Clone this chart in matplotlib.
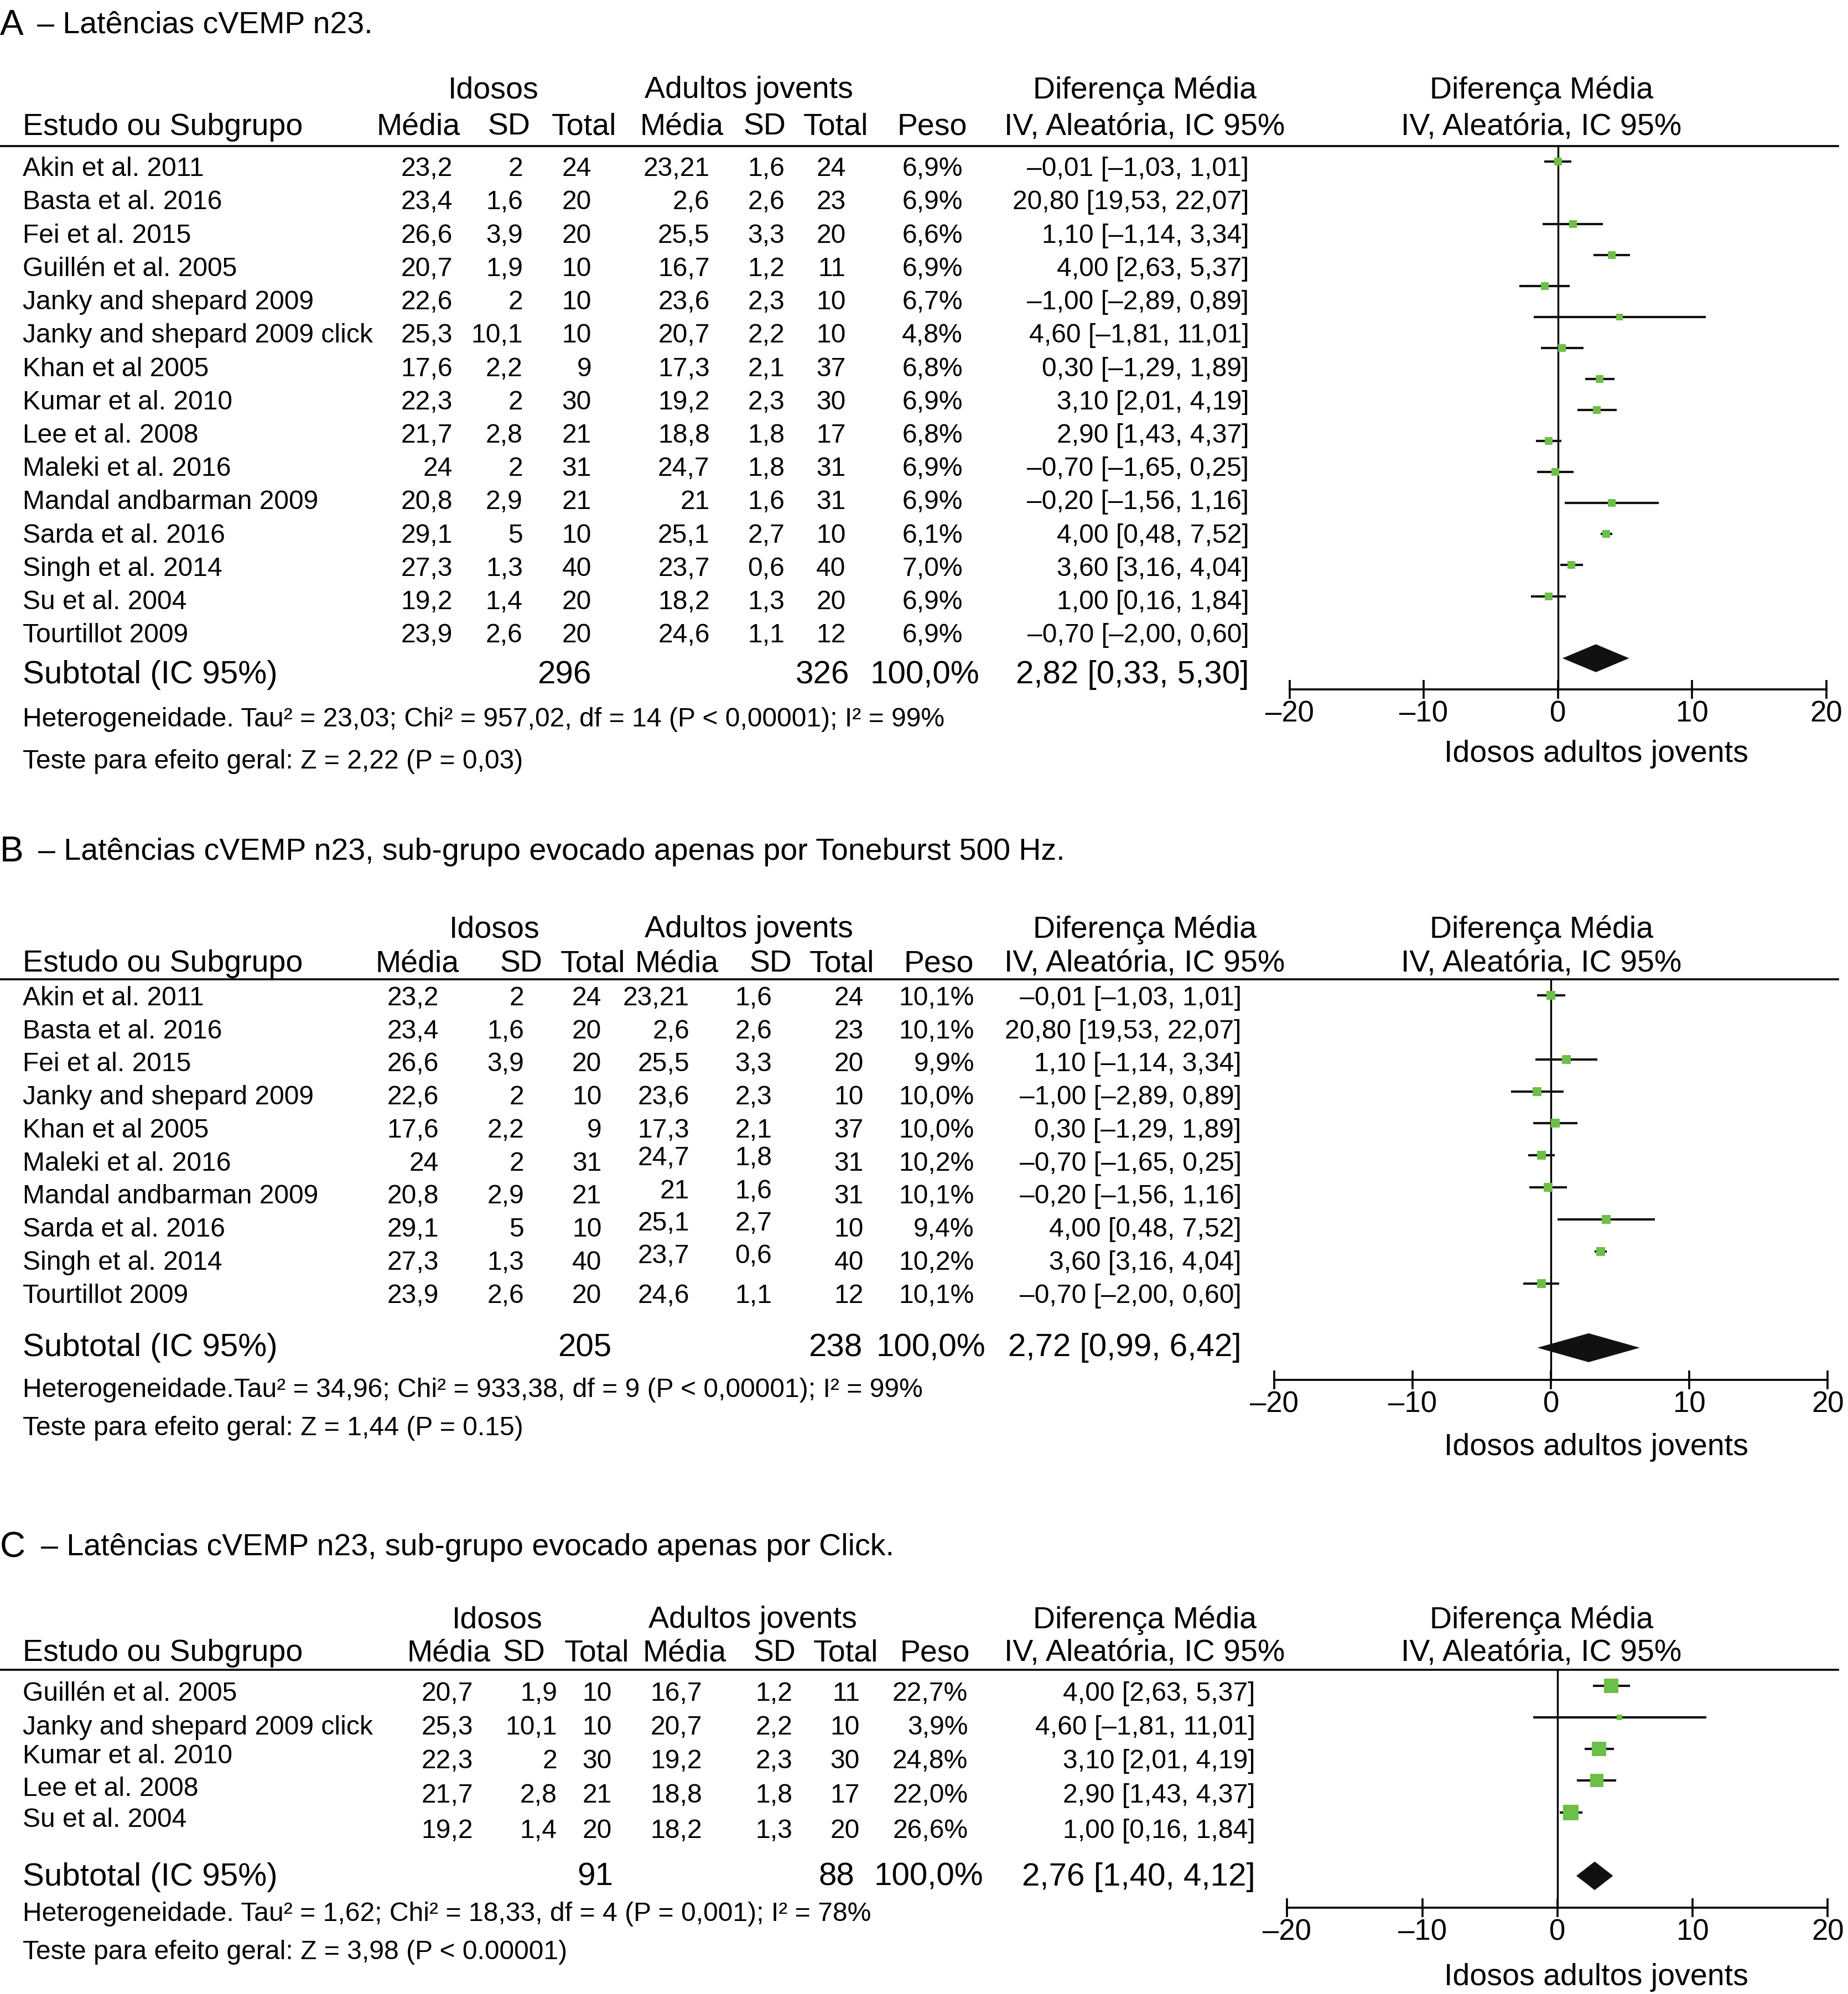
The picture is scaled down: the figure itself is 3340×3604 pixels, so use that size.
import numpy as np
import matplotlib.pyplot as plt
from matplotlib.lines import Line2D

plt.rcParams['font.family'] = ['Liberation Sans', 'DejaVu Sans']

# layout grid: positions are given on a 1453 x 1568 grid (the reference, shrunk)
W, H = 1453, 1568

# ---- data (panel A holds every study) ----
studies = ["Akin et al. 2011", "Basta et al. 2016", "Fei et al. 2015", "Guillén et al. 2005",
           "Janky and shepard 2009", "Janky and shepard 2009 click", "Khan et al 2005",
           "Kumar et al. 2010", "Lee et al. 2008", "Maleki et al. 2016", "Mandal andbarman 2009",
           "Sarda et al. 2016", "Singh et al. 2014", "Su et al. 2004", "Tourtillot 2009"]
old_mean = [23.2, 23.4, 26.6, 20.7, 22.6, 25.3, 17.6, 22.3, 21.7, 24, 20.8, 29.1, 27.3, 19.2, 23.9]
old_sd = [2, 1.6, 3.9, 1.9, 2, 10.1, 2.2, 2, 2.8, 2, 2.9, 5, 1.3, 1.4, 2.6]
old_n = [24, 20, 20, 10, 10, 10, 9, 30, 21, 31, 21, 10, 40, 20, 20]
young_mean = [23.21, 2.6, 25.5, 16.7, 23.6, 20.7, 17.3, 19.2, 18.8, 24.7, 21, 25.1, 23.7, 18.2, 24.6]
young_sd = [1.6, 2.6, 3.3, 1.2, 2.3, 2.2, 2.1, 2.3, 1.8, 1.8, 1.6, 2.7, 0.6, 1.3, 1.1]
young_n = [24, 23, 20, 11, 10, 10, 37, 30, 17, 31, 31, 10, 40, 20, 12]
mean_diff = [-0.01, 20.80, 1.10, 4.00, -1.00, 4.60, 0.30, 3.10, 2.90, -0.70, -0.20, 4.00, 3.60, 1.00, -0.70]
ci_low = [-1.03, 19.53, -1.14, 2.63, -2.89, -1.81, -1.29, 2.01, 1.43, -1.65, -1.56, 0.48, 3.16, 0.16, -2.00]
ci_high = [1.01, 22.07, 3.34, 5.37, 0.89, 11.01, 1.89, 4.19, 4.37, 0.25, 1.16, 7.52, 4.04, 1.84, 0.60]

idx_a = list(range(15))
weight_a = [6.9, 6.9, 6.6, 6.9, 6.7, 4.8, 6.8, 6.9, 6.8, 6.9, 6.9, 6.1, 7.0, 6.9, 6.9]
# B: toneburst 500 Hz, C: click
idx_b = [0, 1, 2, 4, 6, 9, 10, 11, 12, 14]
weight_b = [10.1, 10.1, 9.9, 10.0, 10.0, 10.2, 10.1, 9.4, 10.2, 10.1]
idx_c = [3, 5, 7, 8, 13]
weight_c = [22.7, 3.9, 24.8, 22.0, 26.6]

total_old = [296, 205, 91]
total_young = [326, 238, 88]
pooled_md = [2.82, 2.72, 2.76]
pooled_lo = [0.33, 0.99, 1.40]
pooled_hi = [5.30, 6.42, 4.12]
diamond_lo = [0.33, -0.99, 1.40]   # the B diamond starts left of zero in the figure

letters = ["A", "B", "C"]
titles = ["– Latências cVEMP n23.",
          "– Latências cVEMP n23, sub-grupo evocado apenas por Toneburst 500 Hz.",
          "– Latências cVEMP n23, sub-grupo evocado apenas por Click."]
heterog = ["Heterogeneidade. Tau² = 23,03; Chi² = 957,02, df = 14 (P < 0,00001); I² = 99%",
           "Heterogeneidade.Tau² = 34,96; Chi² = 933,38, df = 9 (P < 0,00001); I² = 99%",
           "Heterogeneidade. Tau² = 1,62; Chi² = 18,33, df = 4 (P = 0,001); I² = 78%"]
overall = ["Teste para efeito geral: Z = 2,22 (P = 0,03)",
           "Teste para efeito geral: Z = 1,44 (P = 0.15)",
           "Teste para efeito geral: Z = 3,98 (P < 0.00001)"]

# ---- layout ----
layouts = [
    dict(title=18, tx=54, head=(69, 98), hline=115,
         rows=[131 + 26.2 * i for i in range(15)], name_dy=[0] * 15, young_dy=[0] * 15,
         sub=529, het=564, test=597,
         cols=[356, 411, 465, 558, 617, 665, 757, 982],
         heads=[329, 400, 459, 536, 601, 657, 733], groups=(388, 589),
         sub_cols=[465, 668, 770, 982], axes=(1014, 1436, 115, 542), xlabel=(1255, 591)),
    dict(title=668, tx=55, head=(729, 756), hline=770,
         rows=[783 + 26 * i for i in range(10)], name_dy=[0] * 10,
         young_dy=[0, 0, 0, 0, 0, -4, -4, -5, -5, 0],
         sub=1058, het=1091, test=1121,
         cols=[345, 412, 473, 542, 607, 679, 766, 976],
         heads=[328, 410, 466, 532, 606, 662, 738], groups=(389, 589),
         sub_cols=[481, 678, 775, 976], axes=(1002, 1437, 770, 1085), xlabel=(1255, 1136)),
    dict(title=1215, tx=57, head=(1272, 1298), hline=1313,
         rows=[1330, 1356.5, 1383, 1410, 1438], name_dy=[0, 0, -4, -5, -9], young_dy=[0] * 5,
         sub=1474, het=1503, test=1533,
         cols=[372, 438, 481, 552, 623, 676, 761, 987],
         heads=[353, 412, 469, 538, 609, 665, 735], groups=(391, 592),
         sub_cols=[482, 672, 773, 987], axes=(1012, 1437, 1313, 1500), xlabel=(1255, 1553)),
]

GREEN = '#6cbf47'
BODY = 17.3


def fmt(v):
    return str(v).replace('.', ',')


def fmt_ci(m, l, h):
    return f"{m:.2f} [{l:.2f}, {h:.2f}]".replace('.', ',').replace('-', '–')


fig = plt.figure(figsize=(16.7, 18.02), dpi=200)


def put(x, y, s, size=BODY, ha='left'):
    # +2: matplotlib's 'center' sits a little above the visual middle of the glyphs
    fig.text(x / W, 1 - (y + 2) / H, s, fontsize=size, ha=ha, va='center')


for p in range(3):
    L = layouts[p]
    idx = [idx_a, idx_b, idx_c][p]
    wts = [weight_a, weight_b, weight_c][p]
    n = len(idx)

    # title
    put(0, L['title'], letters[p], size=23)
    put(L['tx'] - 25, L['title'], titles[p], size=20)

    # headers
    put(L['groups'][0], L['head'][0], "Idosos", 20, 'center')
    put(L['groups'][1], L['head'][0], "Adultos jovents", 20, 'center')
    put(900, L['head'][0], "Diferença Média", 20, 'center')
    put(1212, L['head'][0], "Diferença Média", 20, 'center')
    put(18, L['head'][1], "Estudo ou Subgrupo", 20)
    for hx, hs in zip(L['heads'], ["Média", "SD", "Total", "Média", "SD", "Total", "Peso"]):
        put(hx, L['head'][1], hs, 20, 'center')
    put(900, L['head'][1], "IV, Aleatória, IC 95%", 20, 'center')
    put(1212, L['head'][1], "IV, Aleatória, IC 95%", 20, 'center')
    fig.add_artist(Line2D([0, 1445 / W], [1 - L['hline'] / H] * 2, color='black', lw=1.3))

    # study rows
    c = L['cols']
    for r, i in enumerate(idx):
        y = L['rows'][r]
        put(18, y + L['name_dy'][r], studies[i])
        put(c[0], y, fmt(old_mean[i]), ha='right')
        put(c[1], y, fmt(old_sd[i]), ha='right')
        put(c[2], y, str(old_n[i]), ha='right')
        put(c[3], y + L['young_dy'][r], fmt(young_mean[i]), ha='right')
        put(c[4], y + L['young_dy'][r], fmt(young_sd[i]), ha='right')
        put(c[5], y, str(young_n[i]), ha='right')
        put(c[6], y, f"{wts[r]:.1f}%".replace('.', ','), ha='right')
        put(c[7], y, fmt_ci(mean_diff[i], ci_low[i], ci_high[i]), ha='right')

    # subtotal + statistics
    sc = L['sub_cols']
    put(18, L['sub'], "Subtotal (IC 95%)", 21)
    put(sc[0], L['sub'], str(total_old[p]), 21, 'right')
    put(sc[1], L['sub'], str(total_young[p]), 21, 'right')
    put(sc[2], L['sub'], "100,0%", 21, 'right')
    put(sc[3], L['sub'], fmt_ci(pooled_md[p], pooled_lo[p], pooled_hi[p]), 21, 'right')
    put(18, L['het'], heterog[p])
    put(18, L['test'], overall[p])

    # forest plot
    left, right, top, bottom = L['axes']
    ax = fig.add_axes([left / W, 1 - bottom / H, (right - left) / W, (bottom - top) / H])
    ax.set_facecolor('none')
    ax.axvline(0, color='black', lw=1.2, zorder=1)
    for r, i in enumerate(idx):
        if not -20 <= mean_diff[i] <= 20:
            continue
        ax.hlines(r, ci_low[i], ci_high[i], color='#111111', lw=1.5, zorder=2)
        ax.plot(mean_diff[i], r, 's', color=GREEN, mew=0,
                ms=1.9 * np.sqrt(wts[r]), zorder=3)
    d = n + 1
    ax.fill([diamond_lo[p], pooled_md[p], pooled_hi[p], pooled_md[p]],
            [d, d - 0.45, d, d + 0.45], color='#111111', lw=0, zorder=3)
    ax.set_xlim(-20, 20)
    ax.set_ylim(n + 2, -0.5)
    for s in ['left', 'right', 'top']:
        ax.spines[s].set_visible(False)
    ax.spines['bottom'].set_linewidth(1.3)
    ax.set_yticks([])
    ax.set_xticks([-20, -10, 0, 10, 20])
    ax.set_xticklabels(['–20', '–10', '0', '10', '20'], fontsize=19)
    ax.tick_params(axis='x', direction='inout', length=12, width=1.3, pad=1)
    put(L['xlabel'][0], L['xlabel'][1], "Idosos adultos jovents", 20, 'center')

fig.savefig('out.png', dpi=200, facecolor='white')
